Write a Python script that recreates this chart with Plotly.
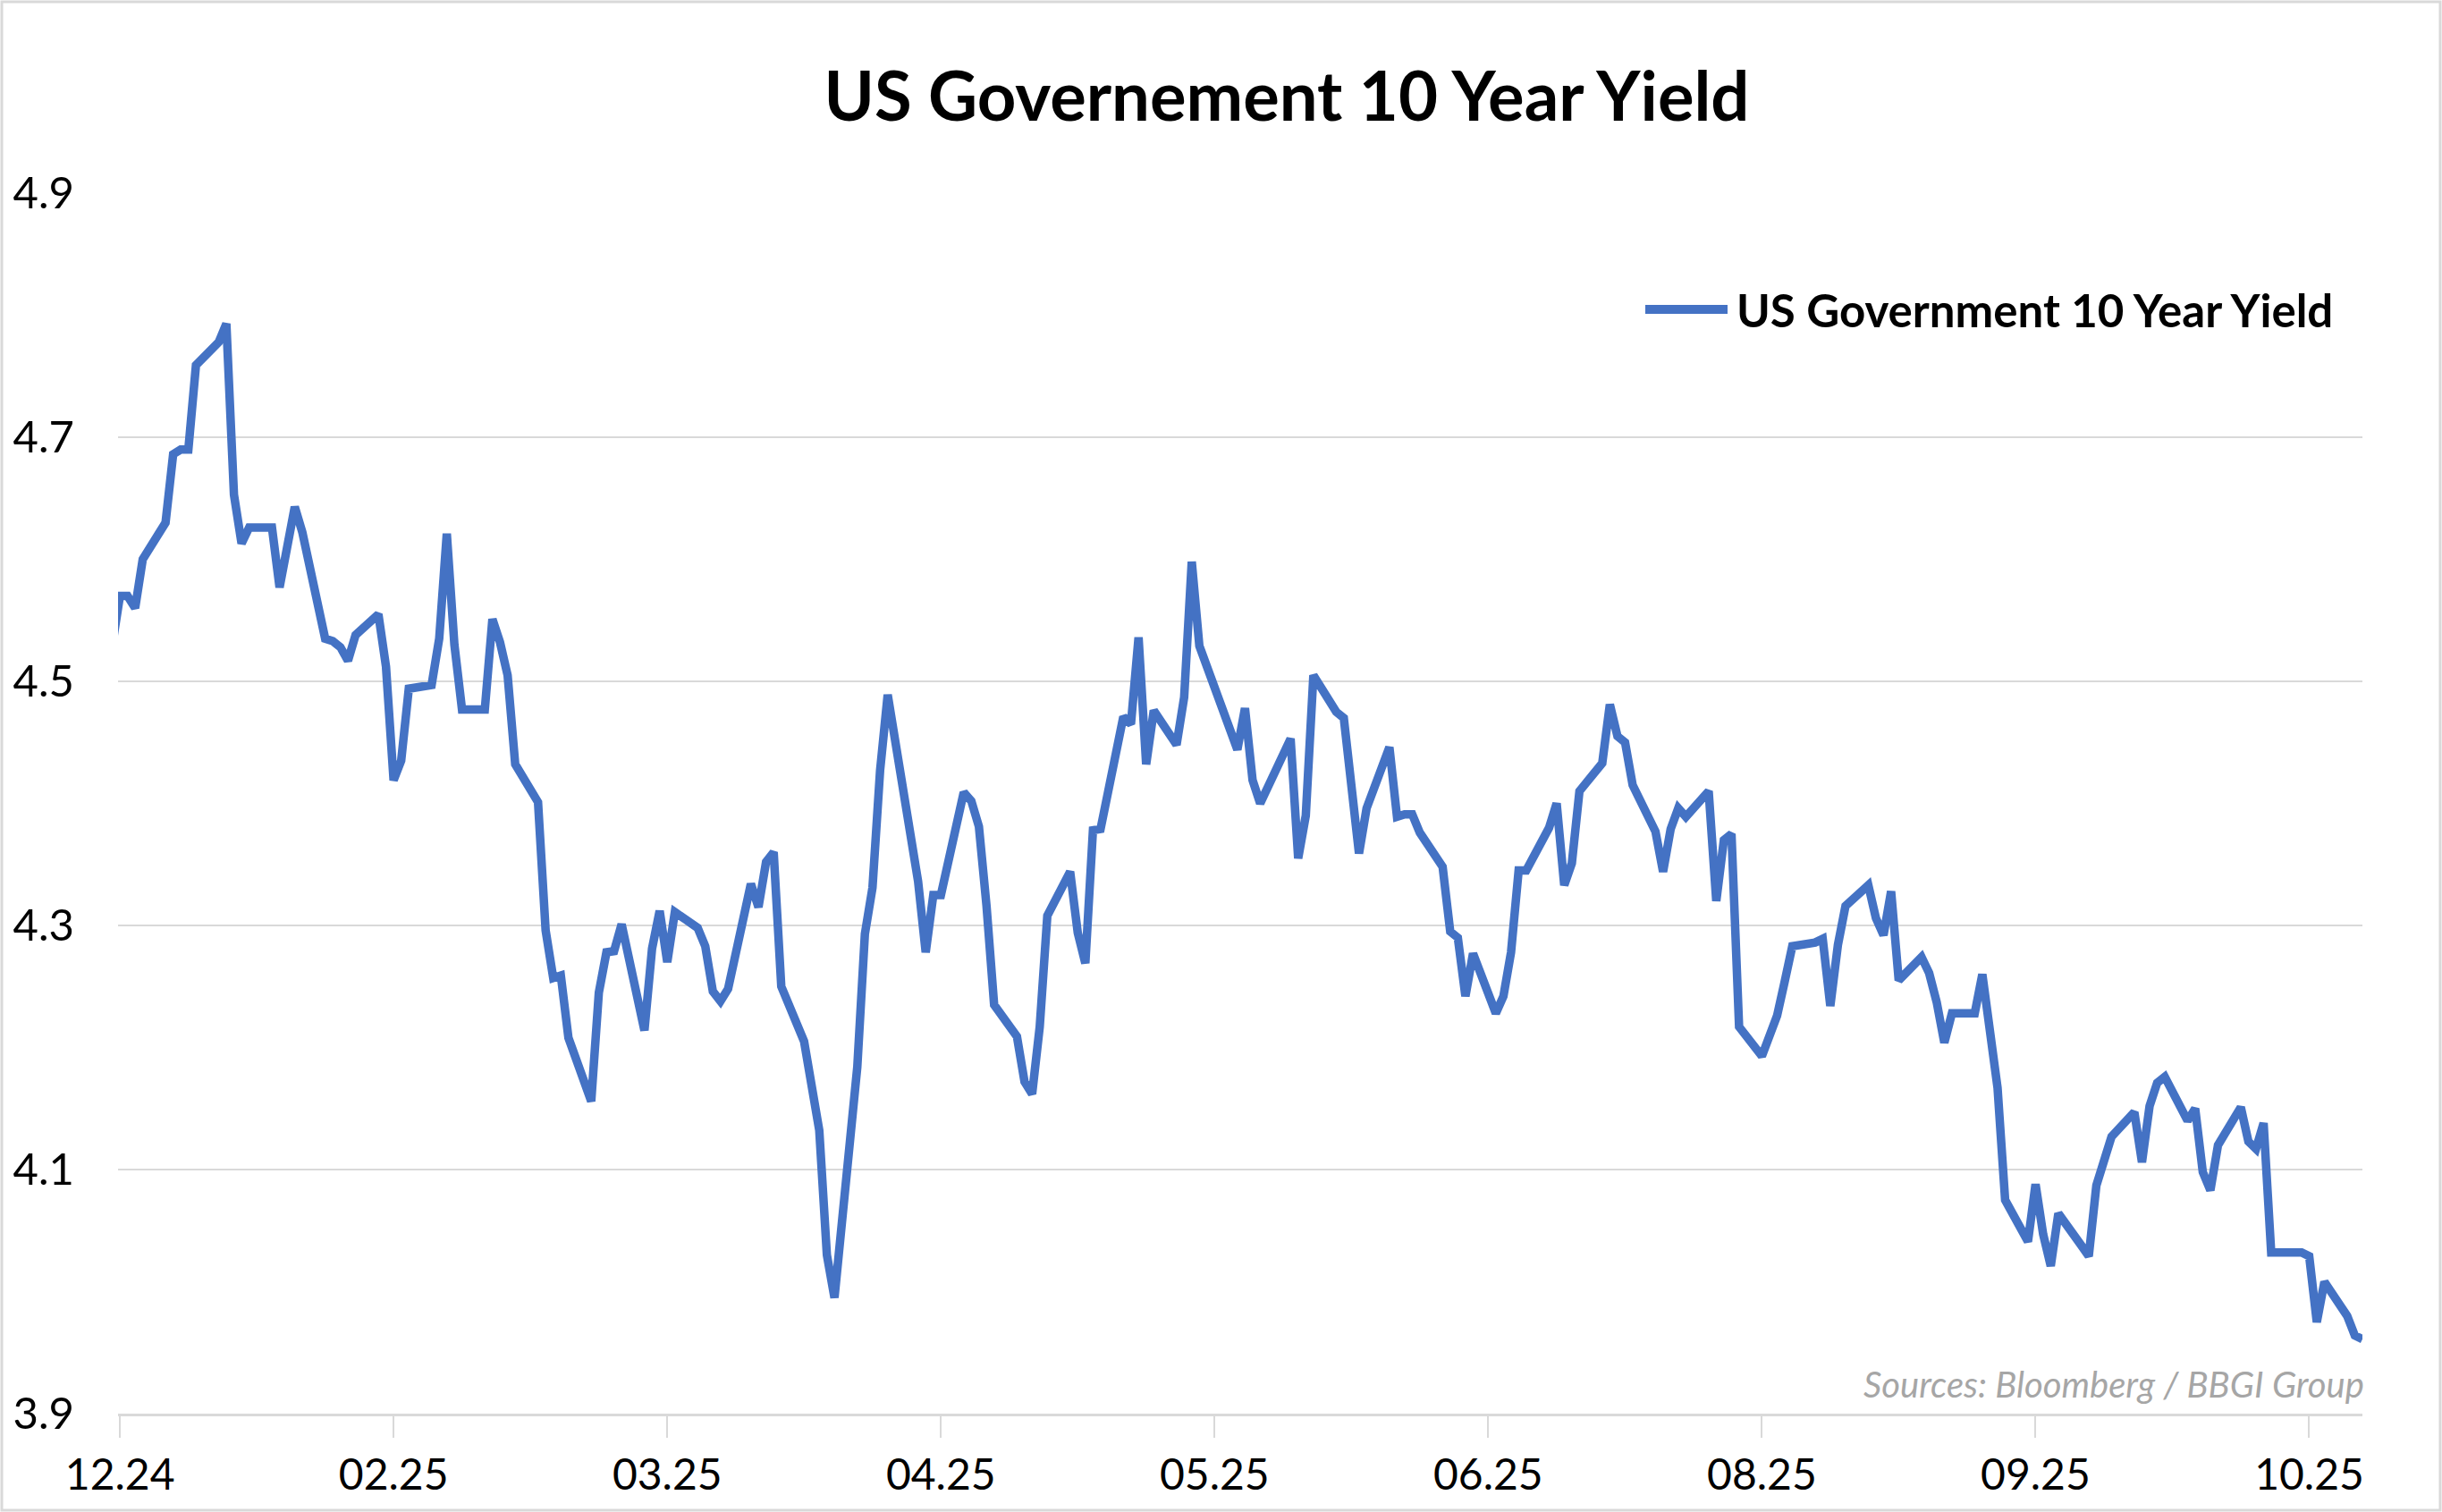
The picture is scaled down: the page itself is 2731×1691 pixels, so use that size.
import pandas as pd
import plotly.graph_objects as go

# Business days Dec 30 2024 -> Oct 22 2025 (holidays carry the prior value)
dates = pd.bdate_range("2024-12-30", "2025-10-22")

yield_10y = [
    4.53, 4.57, 4.57, 4.56, 4.60,
    4.63, 4.686, 4.69, 4.69, 4.759,
    4.778, 4.793, 4.653, 4.613, 4.626,
    4.626, 4.577, 4.609, 4.643, 4.622,
    4.535, 4.533, 4.528, 4.517, 4.538,
    4.555, 4.512, 4.419, 4.435, 4.494,
    4.497, 4.535, 4.621, 4.53, 4.477,
    4.477, 4.551, 4.532, 4.505, 4.432,
    4.401, 4.296, 4.257, 4.259, 4.208,
    4.156, 4.245, 4.278, 4.279, 4.301,
    4.214, 4.281, 4.312, 4.27, 4.311,
    4.298, 4.283, 4.246, 4.238, 4.248,
    4.334, 4.315, 4.352, 4.36, 4.25,
    4.205, 4.169, 4.132, 4.03, 3.995,
    4.184, 4.293, 4.331, 4.427, 4.489,
    4.373, 4.336, 4.278, 4.325, 4.325,
    4.409, 4.402, 4.381, 4.316, 4.235,
    4.209, 4.172, 4.162, 4.217, 4.308,
    4.344, 4.294, 4.269, 4.378, 4.379,
    4.471, 4.465, 4.536, 4.432, 4.476,
    4.448, 4.487, 4.598, 4.529, 4.511,
    4.46, 4.444, 4.478, 4.419, 4.40,
    4.44, 4.453, 4.355, 4.39, 4.505,
    4.475, 4.47, 4.421, 4.359, 4.396,
    4.446, 4.389, 4.391, 4.391, 4.376,
    4.348, 4.295, 4.29, 4.242, 4.277,
    4.228, 4.242, 4.278, 4.345, 4.345,
    4.38, 4.40, 4.333, 4.351, 4.41,
    4.433, 4.481, 4.455, 4.45, 4.415,
    4.377, 4.344, 4.379, 4.396, 4.389,
    4.41, 4.32, 4.37, 4.375, 4.217,
    4.193, 4.212, 4.226, 4.254, 4.283,
    4.286, 4.289, 4.234, 4.284, 4.316,
    4.333, 4.306, 4.292, 4.328, 4.255,
    4.274, 4.261, 4.237, 4.204, 4.228,
    4.228, 4.26, 4.217, 4.167, 4.075,
    4.041, 4.088, 4.047, 4.021, 4.064,
    4.038, 4.029, 4.087, 4.105, 4.127,
    4.147, 4.106, 4.152, 4.171, 4.176,
    4.14, 4.15, 4.098, 4.083, 4.12,
    4.151, 4.123, 4.117, 4.138, 4.032,
    4.032, 4.032, 4.029, 3.975, 4.008,
    3.98, 3.964, 3.961,
]

title_text = "US Governement 10 Year Yield"
series_name = "US Government 10 Year Yield"
source_text = "Sources: Bloomberg / BBGI Group"
y_ticks = [3.9, 4.1, 4.3, 4.5, 4.7, 4.9]

W, H = 2731, 1691
ML, MR, MT, MB = 132, 89, 216, 110
PW, PH = W - ML - MR, H - MT - MB
BLUE = "#4472C4"
GRID = "#D9D9D9"
FONT = "Lato"

fig = go.Figure()
fig.add_trace(go.Scatter(
    x=dates, y=yield_10y, mode="lines", name=series_name,
    line=dict(color=BLUE, width=9.5), showlegend=False,
))

fig.update_layout(
    width=W, height=H,
    margin=dict(l=ML, r=MR, t=MT, b=MB),
    paper_bgcolor="white", plot_bgcolor="white",
    font=dict(family=FONT, color="black"),
    title=dict(text="<b>%s</b>" % title_text, font=dict(size=76, family=FONT, color="black"),
               x=1439 / W, xanchor="center", xref="container",
               y=1 - 108 / H, yanchor="middle", yref="container"),
)

fig.update_xaxes(
    type="date", range=["2024-12-30 18:00", "2025-10-22"],
    tick0="2024-12-31", dtick=36 * 86400000, tickformat="%m.%y",
    ticks="outside", ticklen=24, tickwidth=2, tickcolor=GRID,
    showline=True, linecolor=GRID, linewidth=3,
    showgrid=False, zeroline=False,
    tickfont=dict(size=48, family=FONT, color="black"),
)
fig.update_yaxes(
    range=[3.9, 4.9], tickvals=y_ticks, tickformat=".1f",
    showgrid=True, gridcolor=GRID, gridwidth=2,
    showline=False, zeroline=False, ticks="",
    ticklabelstandoff=48,
    tickfont=dict(size=49, family=FONT, color="black"),
)

# legend drawn manually (long line sample like the original)
ly = 1 - (346 - MT) / PH
fig.add_shape(type="line", xref="paper", yref="paper",
              x0=(1840 - ML) / PW, x1=(1932 - ML) / PW, y0=ly, y1=ly,
              line=dict(color=BLUE, width=10))
fig.add_annotation(text="<b>%s</b>" % series_name, xref="paper", yref="paper",
                   x=(1940 - ML) / PW, y=ly, xanchor="left", yanchor="middle",
                   showarrow=False, font=dict(size=51, family=FONT, color="black"))

# source note
fig.add_annotation(text="<i>%s</i>" % source_text, xref="paper", yref="paper",
                   x=(2646 - ML) / PW, y=1 - (1548 - MT) / PH,
                   xanchor="right", yanchor="middle", showarrow=False,
                   font=dict(size=40, family=FONT, color="#A6A6A6"))

# outer chart border
fig.add_shape(type="rect", xref="paper", yref="paper",
              x0=(-ML + 2) / PW, x1=(PW + MR - 2) / PW,
              y0=(-MB + 2) / PH, y1=(PH + MT - 2) / PH,
              line=dict(color=GRID, width=3), fillcolor="rgba(0,0,0,0)", layer="below")

fig.write_html("out.html", config={"displayModeBar": False},
               post_script="document.body.style.margin='0px';document.body.style.overflow='hidden';")
